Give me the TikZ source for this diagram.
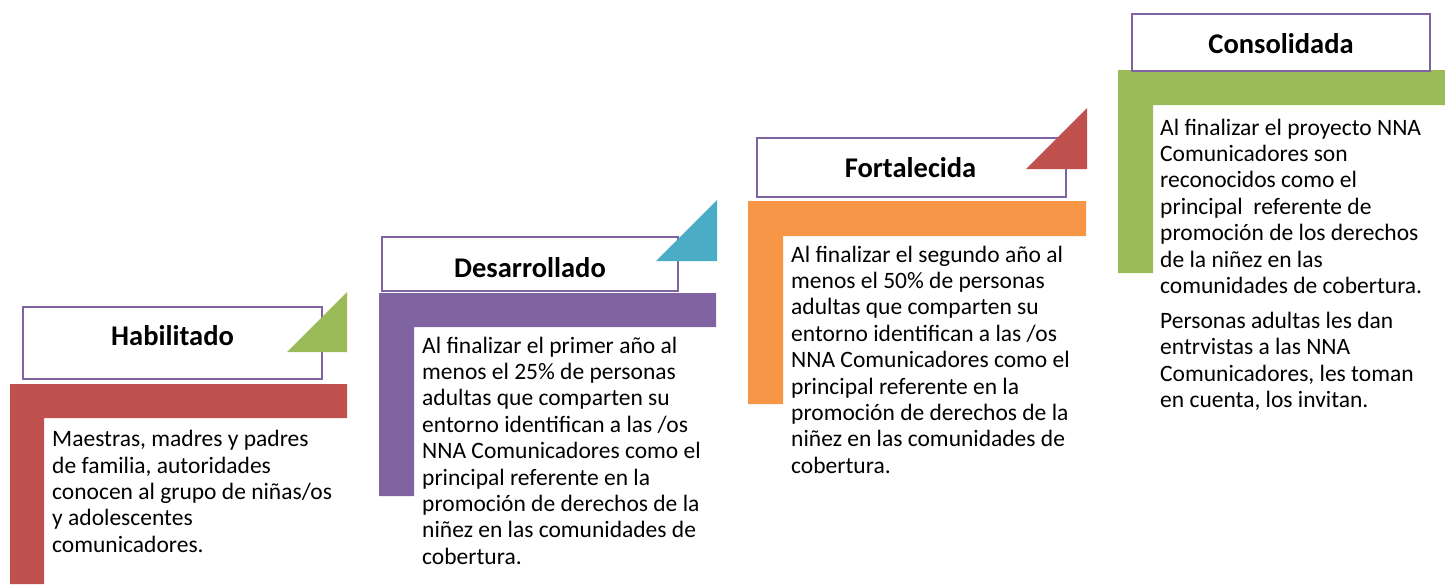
\documentclass[tikz,border=0pt]{standalone}
\usepackage{fontspec}
\setmainfont{Carlito}
\usetikzlibrary{positioning}
\definecolor{stepred}{HTML}{C0504D}
\definecolor{steppurple}{HTML}{8064A2}
\definecolor{steporange}{HTML}{F79646}
\definecolor{stepgreen}{HTML}{9BBB59}
\definecolor{stepaqua}{HTML}{4BACC6}

\begin{document}
\begin{tikzpicture}[x=1pt,y=-1pt,
  titlebox/.style={draw=steppurple, line width=1.5pt, fill=white, inner sep=0pt},
  titletext/.style={anchor=base, inner sep=0pt, font=\bfseries\fontsize{28.5}{34}\selectfont},
  bodytext/.style={anchor=north west, align=left, inner sep=0pt, font=\fontsize{23.5}{26.4}\selectfont}]
\useasboundingbox (0,0) rectangle (1445,584);
% step shapes
\fill[stepred] (10,384) -- (347,384) -- (347,418) -- (44,418) -- (44,584) -- (10,584) -- cycle;
\fill[steppurple] (379,293) -- (716,293) -- (716,327) -- (414,327) -- (414,496) -- (379,496) -- cycle;
\fill[steporange] (748,201) -- (1086,201) -- (1086,236) -- (783,236) -- (783,404) -- (748,404) -- cycle;
\fill[stepgreen] (1118,70) -- (1445,70) -- (1445,105) -- (1153,105) -- (1153,273) -- (1118,273) -- cycle;
% title boxes
\node[titlebox, minimum width=299pt, minimum height=72pt] (habbox) at (172.5,343) {};
\node[titlebox, minimum width=296pt, minimum height=54pt] (desbox) at (530,264) {};
\node[titlebox, minimum width=309pt, minimum height=59pt] (forbox) at (911.5,167.5) {};
\node[titlebox, minimum width=298pt, minimum height=57pt] (conbox) at (1281,42.5) {};
% corner triangles
\fill[stepgreen] (287,352) -- (347,292) -- (347,352) -- cycle;
\fill[stepaqua] (656,261) -- (717,200) -- (717,261) -- cycle;
\fill[stepred] (1026,169) -- (1087,108) -- (1087,169) -- cycle;
% titles
\node[titletext] (hab) at (172.5,345) {Habilitado};
\node[titletext] (des) at (530,277) {Desarrollado};
\node[titletext] (for) at (910.5,177) {Fortalecida};
\node[titletext] (con) at (1281,53) {Consolidada};
% texts
\node[bodytext] (habtxt) at (52,428) {\strut Maestras, madres y padres\\ de familia, autoridades\\ conocen al grupo de niñas/os\\ y adolescentes\\ comunicadores.};
\node[bodytext] (destxt) at (422,334.5) {\strut Al finalizar el primer año al\\ menos el 25\% de personas\\ adultas que comparten su\\ entorno identifican a las /os\\ NNA Comunicadores como el\\ principal referente en la\\ promoción de derechos de la\\ niñez en las comunidades de\\ cobertura.};
\node[bodytext] (fortxt) at (791,243.5) {\strut Al finalizar el segundo año al\\ menos el 50\% de personas\\ adultas que comparten su\\ entorno identifican a las /os\\ NNA Comunicadores como el\\ principal referente en la\\ promoción de derechos de la\\ niñez en las comunidades de\\ cobertura.};
\node[bodytext] (contxt) at (1160,116.5) {\strut Al finalizar el proyecto NNA\\ Comunicadores son\\ reconocidos como el\\ principal\ \ referente de\\ promoción de los derechos\\ de la niñez en las\\ comunidades de cobertura.\\[8.5pt] Personas adultas les dan\\ entrvistas a las NNA\\ Comunicadores, les toman\\ en cuenta, los invitan.};
\end{tikzpicture}
\end{document}
